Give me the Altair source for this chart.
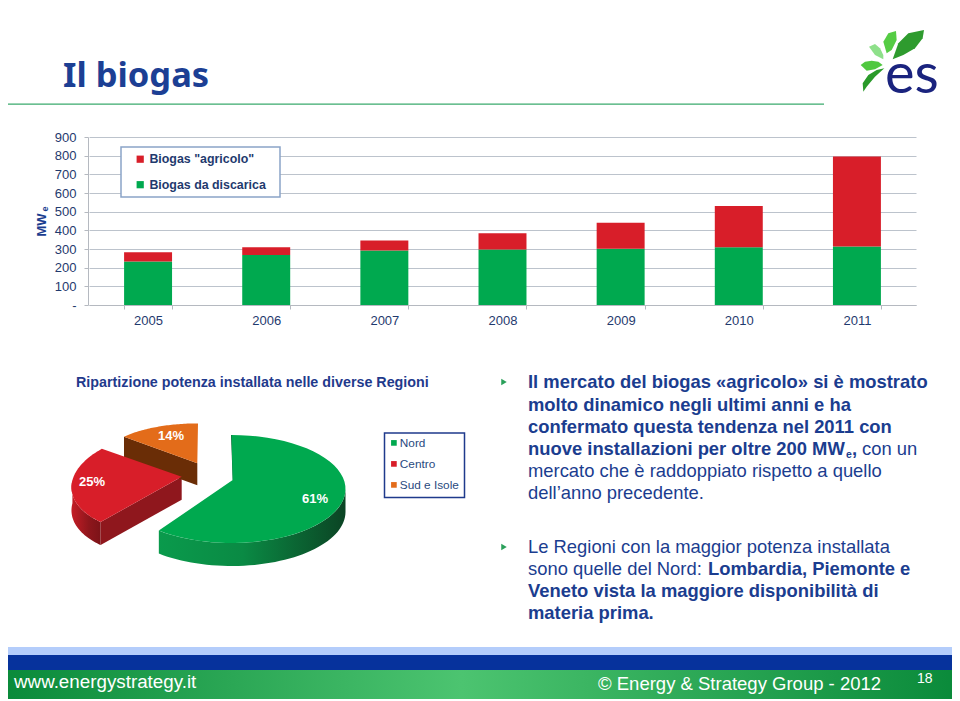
import math
import altair as alt
import pandas as pd

# ---------- data ----------
years = ["2005", "2006", "2007", "2008", "2009", "2010", "2011"]
landfill = [233, 268, 292, 297, 302, 310, 313]
agricultural = [50, 42, 53, 88, 138, 221, 482]
series_names = ['Biogas "agricolo"', "Biogas da discarica"]
y_ticks = [0, 100, 200, 300, 400, 500, 600, 700, 800, 900]

regions = ["Nord", "Centro", "Sud e Isole"]
shares = [61, 25, 14]
region_colors = ["#00a94f", "#d81e29", "#e36c1a"]

lines_bold = [
    "Il mercato del biogas «agricolo» si è mostrato",
    "molto dinamico negli ultimi anni e ha",
    "confermato questa tendenza nel 2011 con",
    "nuove installazioni per oltre 200 MW",
]
lines_regular = ["mercato che è raddoppiato rispetto a quello", "dell’anno precedente."]

NAVY = "#1b3d8f"
AXIS_TEXT = "#1f3a6e"
OFF = 8  # page margin
BODY = 18.4


def px(v):
    return v - OFF


def label(text, x, y, size, color=NAVY, weight="normal", align="left", font="Liberation Sans",
          baseline="middle", angle=0):
    return alt.Chart(pd.DataFrame({"t": [text]})).mark_text(
        font=font, fontSize=size, fontWeight=weight, color=color, align=align,
        baseline=baseline, angle=angle,
    ).encode(text="t:N", x=alt.value(px(x)), y=alt.value(px(y)))


def box(x0, y0, x1, y1, **kw):
    return alt.Chart(pd.DataFrame({"a": [0]})).mark_rect(**kw).encode(
        x=alt.value(px(x0)), x2=alt.value(px(x1)), y=alt.value(px(y0)), y2=alt.value(px(y1)))


# ---------- geometry helpers (pixel-space polygons, identity projection) ----------
def feature(ring, region=""):
    ring = [[round(x - OFF, 2), round(y - OFF, 2)] for x, y in ring]
    ring.append(ring[0])
    return {"type": "Feature", "properties": {"region": region},
            "geometry": {"type": "Polygon", "coordinates": [ring]}}


PROJ = dict(type="identity", scale=1, translate=[0, 0])


def rim(c, a0, a1, n=48):
    cx, cy, a, b, shear = c
    out = []
    for i in range(n + 1):
        t = math.radians(a0 + (a1 - a0) * i / n)
        dy = -b * math.cos(t)
        out.append((cx + a * math.sin(t) + shear * dy, cy + dy))
    return out


def shape(rings_region, **kw):
    return alt.Chart(alt.Data(values=[feature(r, g) for r, g in rings_region])).mark_geoshape(
        strokeWidth=0, **kw).project(**PROJ)


def hgrad(*stops):
    return alt.Gradient(gradient="linear", x1=0, x2=1, y1=0, y2=0,
                        stops=[alt.GradientStop(offset=o, color=c) for o, c in stops])


# cumulative angles from the shares
ang = [0]
for s in shares:
    ang.append(ang[-1] + s * 3.6)

ell_n = (231.5, 489, 114, 54, 0)
ell_c = (173, 482, 101, 52, -0.2)
ell_s = (198, 460, 96, 36.6, 0)
apex_n = (232.7, 480)
apex_c = (181.7, 476.7)
apex_s = (197.3, 463.3)
WALL = 23


def drop(pts, d=WALL):
    return [(x, y + d) for x, y in pts]


top_n = [apex_n] + rim(ell_n, ang[0], ang[1])
top_c = [apex_c] + rim(ell_c, ang[1], ang[2])
top_s = [apex_s] + rim(ell_s, ang[2], ang[3])

wall_n = rim(ell_n, 90, ang[1])
wall_c = rim(ell_c, ang[1], 272)
corner_c = rim(ell_c, ang[1], ang[1], 1)[0]
corner_s = rim(ell_s, ang[2], ang[2], 1)[0]

pie_walls = [
    shape([(wall_n + drop(wall_n)[::-1], "")],
          fill=hgrad((0, "#0a9a4c"), (0.45, "#0a8a44"), (1, "#0b4424"))),
    shape([(wall_c + drop(wall_c)[::-1], "")],
          fill=hgrad((0, "#c41d26"), (0.6, "#8e161c"), (1, "#7c1318"))),
    shape([([corner_c, apex_c, (apex_c[0], apex_c[1] + WALL), (corner_c[0], corner_c[1] + WALL)], "")],
          fill="#8f171d"),
    shape([([corner_s, apex_s, (apex_s[0], apex_s[1] + 22), (corner_s[0], corner_s[1] + 22)], "")],
          fill="#6a2d06"),
    shape([([(231, 435), apex_n, (233.6, 480), (232, 435)], "")], fill="#0b5a2e"),
]

pie_top = alt.Chart(alt.Data(values=[
    feature(top_n, regions[0]), feature(top_c, regions[1]), feature(top_s, regions[2])
])).mark_geoshape(strokeWidth=0).encode(
    color=alt.Color("properties.region:N",
                    scale=alt.Scale(domain=regions, range=region_colors),
                    legend=alt.Legend(orient="none", legendX=px(388), legendY=px(437), title=None,
                                      symbolType="square", symbolSize=32, padding=0, rowPadding=8,
                                      labelFont="Liberation Sans", labelFontSize=11.8, labelColor="#2a4a80",
                                      labelOffset=0, symbolStrokeWidth=0, zindex=1))
).project(**PROJ)

# ---------- logo ----------
leaves = [
    ([(128, 118), (145, 70), (175, 40), (222, 30), (218, 55), (195, 85), (160, 105)], "#2e9b2e"),
    ([(110, 100), (100, 65), (115, 40), (138, 33), (140, 60), (125, 90)], "#55cc44"),
    ([(100, 118), (75, 105), (57, 80), (75, 72), (90, 85), (100, 105)], "#8ee08a"),
    ([(32, 135), (45, 125), (65, 122), (85, 125), (98, 135), (75, 148), (50, 152)], "#50c840"),
    ([(103, 145), (75, 170), (50, 200), (40, 215), (38, 190), (55, 165), (80, 150)], "#2a9a2a"),
]
logo = [shape([([(850 + x / 3, 20 + y / 3) for x, y in pts], "")], fill=c) for pts, c in leaves]

# ---------- bar chart ----------
bars_df = pd.DataFrame({
    "year": years * 2,
    "value": landfill + agricultural,
    "series": [series_names[1]] * 7 + [series_names[0]] * 7,
    "rank": [0] * 7 + [1] * 7,
})
bars = alt.Chart(bars_df).mark_bar().encode(
    x=alt.X("year:O", title=None,
            scale=alt.Scale(range=[px(89), px(916)], paddingInner=0.594, paddingOuter=0.297),
            axis=alt.Axis(offset=px(305) - 693, labelAngle=0, tickBand="extent", tickSize=4,
                          labelPadding=5, labelFont="Liberation Sans", labelFontSize=13,
                          labelColor=AXIS_TEXT, tickColor="#b5b9c0", domainColor="#b5b9c0", grid=False)),
    y=alt.Y("value:Q", title=None, stack="zero",
            scale=alt.Scale(domain=[0, 900], range=[px(305), px(137)], nice=False),
            axis=alt.Axis(offset=-px(88), values=y_ticks, grid=True, gridColor="#bcc3cc", gridWidth=1,
                          tickSize=4, labelPadding=8, labelFont="Liberation Sans", labelFontSize=13,
                          labelColor=AXIS_TEXT, tickColor="#b5b9c0", domainColor="#b5b9c0",
                          labelExpr="datum.value === 0 ? '-' : datum.value")),
    color=alt.Color("series:N", scale=alt.Scale(domain=series_names, range=["#d81e29", "#00a94f"]),
                    legend=alt.Legend(orient="none", legendX=px(134), legendY=px(153), title=None,
                                      symbolType="square", symbolSize=52, padding=0, rowPadding=12.5,
                                      labelFont="Liberation Sans", labelFontSize=12.4, labelColor=AXIS_TEXT,
                                      labelFontWeight="bold", labelOffset=3, symbolStrokeWidth=0, zindex=1)),
    order=alt.Order("rank:Q"),
)

layers = [
    # header
    label("Il biogas", 63, 87, 34.5, color="#1c3f94", weight="bold", font="Noto Sans", baseline="alphabetic"),
    box(4, 103.4, 824, 104.8, fill="#3aaa6c"),
    *logo,
    label("es", 885, 93, 56, color="#1a237e", font="Lato", baseline="alphabetic"),
    # bar chart
    bars,
    box(121, 147, 280, 197, fill="white", stroke="#8aa4c8", strokeWidth=1.5),
    label("MW", 42, 225, 13, color=NAVY, weight="bold", align="center", angle=270),
    label("e", 45, 209, 9, color=NAVY, weight="bold", align="center", angle=270),
    # pie
    label("Ripartizione potenza installata nelle diverse Regioni", 76, 383, 14.3, color="#1f3a8c", weight="bold"),
    *pie_walls,
    pie_top,
    box(384.5, 433, 464.5, 497.5, fill="white", stroke="#1f3a8c", strokeWidth=1.5),
    label("61%", 315, 499, 13, color="white", weight="bold", align="center"),
    label("25%", 92, 481.5, 13, color="white", weight="bold", align="center"),
    label("14%", 171, 436, 13, color="white", weight="bold", align="center"),
]

# body text
for i, t in enumerate(lines_bold):
    layers.append(label(t, 528, [382, 404.5, 427, 449][i], BODY, weight="bold"))
layers += [
    label("e", 846, 455, 10.5, weight="bold"),
    label(",", 852, 449, BODY, weight="bold"),
    label("con un", 862, 449, BODY),
    label(lines_regular[0], 528, 471, BODY),
    label(lines_regular[1], 528, 493, BODY),
    label("Le Regioni con la maggior potenza installata", 528, 547, BODY),
    label("sono quelle del Nord:", 528, 569, BODY),
    label("Lombardia, Piemonte e", 708, 569, BODY, weight="bold"),
    label("Veneto vista la maggiore disponibilità di", 528, 591, BODY, weight="bold"),
    label("materia prima.", 528, 613, BODY, weight="bold"),
]
for yb in (382, 547):
    layers.append(alt.Chart(pd.DataFrame({"a": [0]})).mark_point(
        shape="triangle-right", filled=True, size=40, color="#2aa05a", opacity=1
    ).encode(x=alt.value(px(504)), y=alt.value(px(yb))))

# footer
layers += [
    box(4, 647, 957, 655, fill="#b4cdfb"),
    box(4, 655, 957, 670, fill="#06329c"),
    box(4, 670, 957, 699, fill=hgrad((0, "#0a8a3a"), (0.48, "#4cc470"), (1, "#0a8a3a"))),
    label("www.energystrategy.it", 14, 682, 18.8, color="white"),
    label("© Energy & Strategy Group - 2012", 598, 684, 18.5, color="white"),
    label("18", 917, 679, 14, color="white"),
]

chart = alt.layer(*layers).resolve_scale(color="independent").properties(
    width=944, height=693, padding=0, autosize=alt.AutoSizeParams(type="none"),
).configure_view(stroke=None)

chart.save("out.html", embed_options={"renderer": "svg", "actions": False})
